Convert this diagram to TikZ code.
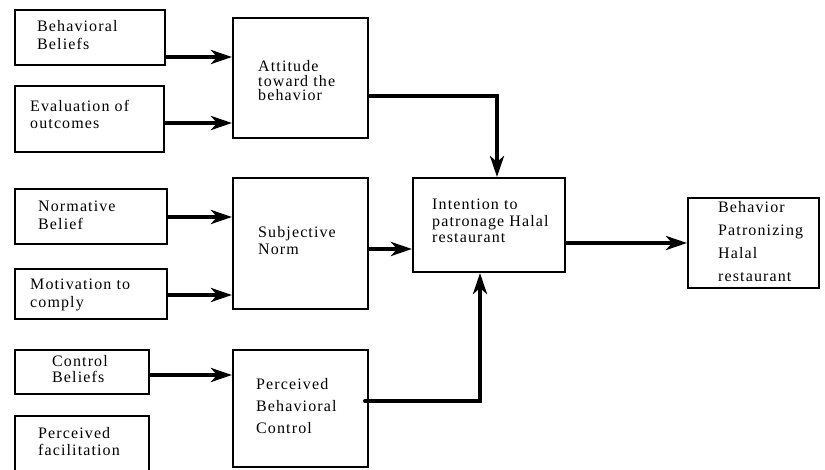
\documentclass[tikz,border=0pt]{standalone}
\usepackage{fontspec}
\setmainfont{Liberation Serif}[LetterSpace=7]
\usetikzlibrary{arrows.meta}
\newcommand\txs[1]{\fontsize{16}{#1}\selectfont}
\begin{document}
\begin{tikzpicture}[x=1pt,y=-1pt,
  box/.style={draw, line width=2pt, rectangle, inner sep=0pt, anchor=north west},
  lbl/.style={inner sep=0pt, align=left, anchor=base west},
  arr/.style={line width=4pt, line cap=round, -{Stealth[length=21pt,width=14pt,inset=6pt]}}]
\useasboundingbox (0,0) rectangle (825,470);
% boxes
\node[box, minimum width=150pt, minimum height=55pt]  (bb)  at (14,9)   {};
\node[box, minimum width=149pt, minimum height=66pt]  (eo)  at (14,85)  {};
\node[box, minimum width=135pt, minimum height=120pt] (att) at (232,17) {};
\node[box, minimum width=152pt, minimum height=55pt]  (nb)  at (14,188) {};
\node[box, minimum width=152pt, minimum height=50pt]  (mc)  at (14,268) {};
\node[box, minimum width=135pt, minimum height=131pt] (sn)  at (232,177) {};
\node[box, minimum width=134pt, minimum height=44pt]  (cb)  at (14,349) {};
\node[box, minimum width=134pt, minimum height=65pt]  (pf)  at (14,415) {};
\node[box, minimum width=135pt, minimum height=117pt] (pbc) at (232,349) {};
\node[box, minimum width=152pt, minimum height=94pt]  (int) at (412,177) {};
\node[box, minimum width=131pt, minimum height=90pt]  (beh) at (687,197) {};
% labels (anchor = baseline of the last line)
\node[lbl, font=\txs{18}]   (bbt)  at (37,50)   {Behavioral\\Beliefs};
\node[lbl, font=\txs{17}]   (eot)  at (30,129)  {Evaluation of\\outcomes};
\node[lbl, font=\txs{14.5}] (attt) at (258,101) {Attitude\\toward the\\behavior};
\node[lbl, font=\txs{18}]   (nbt)  at (38,230)  {Normative\\Belief};
\node[lbl, font=\txs{18}]   (mct)  at (30,308)  {Motivation to\\comply};
\node[lbl, font=\txs{17}]   (snt)  at (258,255) {Subjective\\Norm};
\node[lbl, font=\txs{17}]   (cbt)  at (52,383)  {Control\\Beliefs};
\node[lbl, font=\txs{17}]   (pft)  at (38,455)  {Perceived\\facilitation};
\node[lbl, font=\txs{22}]   (pbct) at (256,433) {Perceived\\Behavioral\\Control};
\node[lbl, font=\txs{16.5}] (intt) at (432,243) {Intention to\\patronage Halal\\restaurant};
\node[lbl, font=\txs{23}]   (beht) at (718,282) {Behavior\\Patronizing\\Halal\\restaurant};
% connectors
\draw[arr] (bb.east |- 0,57)  -- (att.west |- 0,57);
\draw[arr] (eo.east |- 0,123) -- (att.west |- 0,123);
\draw[arr] (nb.east |- 0,217) -- (sn.west |- 0,217);
\draw[arr] (mc.east |- 0,295) -- (sn.west |- 0,295);
\draw[arr] (cb.east |- 0,375) -- (pbc.west |- 0,375);
\draw[arr] (sn.east |- 0,249) -- (int.west |- 0,249);
\draw[arr] (att.east |- 0,96) -| (497,0 |- int.north);
\draw[arr] ([xshift=-4pt]pbc.east |- 0,401) -| (480,0 |- int.south);
\draw[arr] (int.east |- 0,243) -- (beh.west |- 0,243);
\end{tikzpicture}
\end{document}
